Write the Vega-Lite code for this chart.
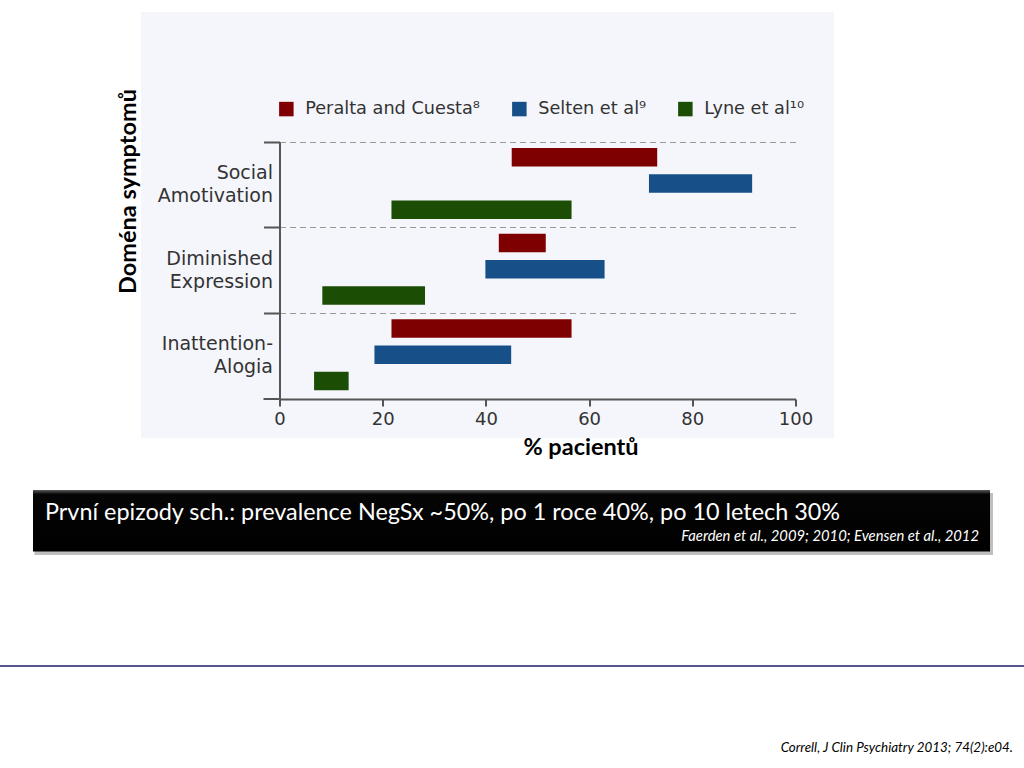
{
  "$schema": "https://vega.github.io/schema/vega-lite/v6.json",
  "width": 516,
  "height": 257,
  "autosize": {"type": "none"},
  "padding": {"left": 279.5, "top": 142, "right": 228.5, "bottom": 369},
  "background": "#ffffff",
  "config": {"view": {"stroke": null}, "font": "Lato"},
  "layer": [
    {
      "data": {"values": [{"part": "chart background"}]},
      "mark": {"type": "rect", "fill": "#f5f6fc"},
      "encoding": {
        "x": {"value": -138.5}, "x2": {"value": 554.5},
        "y": {"value": -130}, "y2": {"value": 296}
      }
    },
    {
      "data": {"values": [{"part": "box shadow"}]},
      "mark": {"type": "rect", "fill": "#8a8a8a", "opacity": 0.55},
      "encoding": {
        "x": {"value": -245}, "x2": {"value": 713.5},
        "y": {"value": 351}, "y2": {"value": 413}
      }
    },
    {
      "data": {"values": [{"part": "box"}]},
      "mark": {"type": "rect", "fill": {"gradient": "linear", "x1": 0, "y1": 0, "x2": 0, "y2": 1, "stops": [{"offset": 0, "color": "#5a5a5a"}, {"offset": 0.07, "color": "#050505"}, {"offset": 1, "color": "#000000"}]}},
      "encoding": {
        "x": {"value": -246.5}, "x2": {"value": 710.5},
        "y": {"value": 348}, "y2": {"value": 409.5}
      }
    },
    {
      "data": {"values": [{"note": "První epizody sch.: prevalence NegSx ~50%, po 1 roce 40%, po 10 letech 30%"}]},
      "mark": {"type": "text", "font": "Lato", "fontSize": 23.4, "color": "#ffffff", "align": "left", "baseline": "alphabetic"},
      "encoding": {"text": {"field": "note"}, "x": {"value": -234.5}, "y": {"value": 377.5}}
    },
    {
      "data": {"values": [{"note": "Faerden et al., 2009; 2010; Evensen et al., 2012"}]},
      "mark": {"type": "text", "font": "Lato", "fontSize": 14.8, "fontStyle": "italic", "color": "#ffffff", "align": "right", "baseline": "alphabetic"},
      "encoding": {"text": {"field": "note"}, "x": {"value": 699.5}, "y": {"value": 398.5}}
    },
    {
      "data": {"values": [{"part": "divider"}]},
      "mark": {"type": "rule", "stroke": "#1c1c6b", "strokeWidth": 1.5},
      "encoding": {
        "x": {"value": -279.5}, "x2": {"value": 744.5},
        "y": {"value": 524}
      }
    },
    {
      "data": {"values": [{"note": "Correll, J Clin Psychiatry 2013; 74(2):e04."}]},
      "mark": {"type": "text", "font": "Lato", "fontSize": 13.4, "fontStyle": "italic", "color": "#000000", "align": "right", "baseline": "alphabetic"},
      "encoding": {"text": {"field": "note"}, "x": {"value": 733.5}, "y": {"value": 610}}
    },
    {
      "data": {"values": [{"part": "bottom tick"}]},
      "mark": {"type": "rule", "stroke": "#555555", "strokeWidth": 2},
      "encoding": {
        "x": {"value": -16}, "x2": {"value": 0},
        "y": {"value": 257}
      }
    },
    {
      "data": {"values": [
        {"domain": "Social Amotivation", "study": "Peralta and Cuesta⁸", "start": 45.0, "end": 73.2},
        {"domain": "Social Amotivation", "study": "Selten et al⁹", "start": 71.6, "end": 91.6},
        {"domain": "Social Amotivation", "study": "Lyne et al¹⁰", "start": 21.7, "end": 56.6},
        {"domain": "Diminished Expression", "study": "Peralta and Cuesta⁸", "start": 42.5, "end": 51.6},
        {"domain": "Diminished Expression", "study": "Selten et al⁹", "start": 39.9, "end": 63.0},
        {"domain": "Diminished Expression", "study": "Lyne et al¹⁰", "start": 8.3, "end": 28.2},
        {"domain": "Inattention-Alogia", "study": "Peralta and Cuesta⁸", "start": 21.7, "end": 56.6},
        {"domain": "Inattention-Alogia", "study": "Selten et al⁹", "start": 18.4, "end": 44.9},
        {"domain": "Inattention-Alogia", "study": "Lyne et al¹⁰", "start": 6.7, "end": 13.4}
      ]},
      "mark": {"type": "bar"},
      "encoding": {
        "y": {
          "field": "domain", "type": "nominal",
          "sort": ["Social Amotivation", "Diminished Expression", "Inattention-Alogia"],
          "scale": {"paddingInner": 0, "paddingOuter": 0},
          "axis": {
            "zindex": 1,
            "title": "Doména symptomů",
            "titleFont": "Lato", "titleFontSize": 23.5, "titleFontWeight": "bold", "titleColor": "#000000",
            "titleAngle": -90, "titleX": -151, "titleY": 49, "titleAlign": "center", "titleBaseline": "middle",
            "bandPosition": 0,
            "ticks": true, "tickSize": 16, "tickWidth": 2, "tickColor": "#555555",
            "domainColor": "#555555", "domainWidth": 2,
            "grid": true, "gridDash": [6, 4], "gridColor": "#9a9a9a", "gridWidth": 1,
            "labelOffset": -12, "labelPadding": -9,
            "labelFont": "DejaVu Sans", "labelFontSize": 19, "labelColor": "#333333",
            "labelLineHeight": 23, "labelBaseline": "middle", "labelAlign": "right",
            "labelExpr": "datum.value == 'Inattention-Alogia' ? ['Inattention-', 'Alogia'] : split(datum.value, ' ')"
          }
        },
        "yOffset": {
          "field": "study", "type": "nominal",
          "sort": ["Peralta and Cuesta⁸", "Selten et al⁹", "Lyne et al¹⁰"],
          "scale": {"paddingInner": 0.295, "paddingOuter": 0.28, "align": 0.41}
        },
        "x": {
          "field": "start", "type": "quantitative",
          "scale": {"domain": [0, 100], "nice": false},
          "axis": {
            "zindex": 1,
            "values": [0, 20, 40, 60, 80, 100],
            "title": "% pacientů",
            "titleFont": "Lato", "titleFontSize": 23.5, "titleFontWeight": "bold", "titleColor": "#000000",
            "titleX": 301, "titleY": 55, "titleAlign": "center", "titleBaseline": "alphabetic",
            "grid": false,
            "tickSize": 7, "tickWidth": 2, "tickColor": "#555555",
            "domainColor": "#555555", "domainWidth": 2,
            "labelFont": "DejaVu Sans", "labelFontSize": 18, "labelColor": "#333333",
            "labelPadding": 4, "labelFlush": false
          }
        },
        "x2": {"field": "end"},
        "color": {
          "field": "study", "type": "nominal",
          "sort": ["Peralta and Cuesta⁸", "Selten et al⁹", "Lyne et al¹⁰"],
          "scale": {"domain": ["Peralta and Cuesta⁸", "Selten et al⁹", "Lyne et al¹⁰"], "range": ["#7f0000", "#175089", "#1b4d04"]},
          "legend": {
            "title": null, "orient": "none", "legendX": -2, "legendY": -42,
            "direction": "horizontal", "symbolType": "square", "symbolSize": 210,
            "symbolStrokeWidth": 0, "symbolOpacity": 1,
            "labelFont": "DejaVu Sans", "labelFontSize": 17.7, "labelColor": "#333333",
            "labelLimit": 400,
            "labelOffset": 10, "columnPadding": 30, "padding": 0
          }
        }
      }
    }
  ]
}
